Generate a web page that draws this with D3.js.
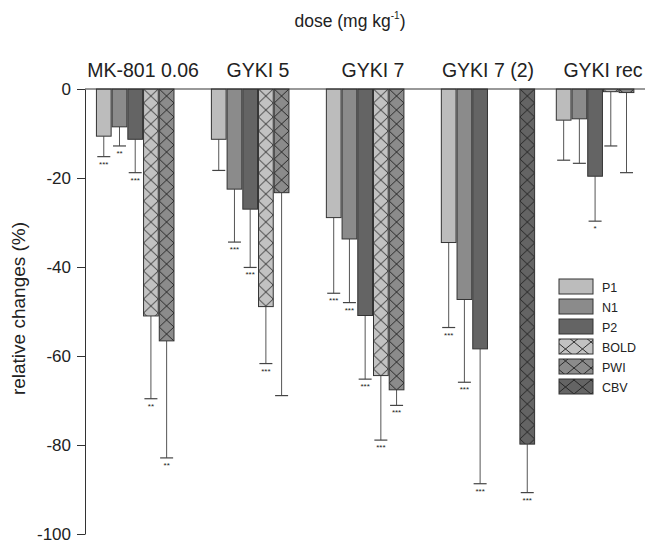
<!DOCTYPE html>
<html>
<head>
<meta charset="utf-8">
<script src="https://cdn.jsdelivr.net/npm/d3@7"></script>
<style>
body{margin:0;background:#fff;}
text{font-family:"Liberation Sans",Arial,sans-serif;fill:#222;}
</style>
</head>
<body>
<script>
// doses (groups) and measures (series)
const groups = ["MK-801 0.06", "GYKI 5", "GYKI 7", "GYKI 7 (2)", "GYKI rec"];
const series = ["P1", "N1", "P2", "BOLD", "PWI", "CBV"];

// mean relative change (%) per series, one value per group (null = not measured)
const meanP1   = [-10.6, -11.3, -28.9, -34.5, -7.0];
const meanN1   = [-8.5, -22.5, -33.7, -47.3, -6.7];
const meanP2   = [-11.3, -27.0, -50.9, -58.4, -19.6];
const meanBOLD = [-51.0, -48.9, -64.4, null, -0.6];
const meanPWI  = [-56.6, -23.3, -67.6, null, -0.8];
const meanCBV  = [null, null, null, -79.8, null];

// error bar length (drawn downward only)
const errP1   = [4.6, 7.0, 17.0, 19.1, 9.0];
const errN1   = [4.3, 11.9, 14.3, 18.6, 10.0];
const errP2   = [7.5, 13.1, 14.3, 30.3, 10.1];
const errBOLD = [18.6, 12.8, 14.5, null, 12.2];
const errPWI  = [26.3, 45.6, 3.5, null, 18.0];
const errCBV  = [null, null, null, 10.9, null];

// significance marks
const sigP1   = ["***", "", "***", "***", ""];
const sigN1   = ["**", "***", "***", "***", ""];
const sigP2   = ["***", "***", "***", "***", "*"];
const sigBOLD = ["**", "***", "***", "", ""];
const sigPWI  = ["**", "", "***", "", ""];
const sigCBV  = ["", "", "", "***", ""];

const yTicks = [0, -20, -40, -60, -80, -100];

const means = [meanP1, meanN1, meanP2, meanBOLD, meanPWI, meanCBV];
const errs = [errP1, errN1, errP2, errBOLD, errPWI, errCBV];
const sigs = [sigP1, sigN1, sigP2, sigBOLD, sigPWI, sigCBV];
const fills = ["#bcbcbc", "#8b8b8b", "#646464", "#c2c2c2", "#8b8b8b", "#646464"];
const hatched = [false, false, false, true, true, true];

const W = 658, H = 541;
const svg = d3.select("body").append("svg").attr("width", W).attr("height", H);
const defs = svg.append("defs");

const x0 = d3.scaleBand().domain(groups).range([85, 661]).paddingInner(0.18).paddingOuter(0.095);
const x1 = d3.scaleBand().domain(series).range([0, x0.bandwidth()]);
const y = d3.scaleLinear().domain([-100, 0]).range([534, 89]);

let patCount = 0;
let hatch = (fill, px, py, pw) => {
    let id = "hatch" + (patCount++);
    let p = defs.append("pattern").attr("id", id)
        .attr("patternUnits", "userSpaceOnUse")
        .attr("x", px).attr("y", py).attr("width", pw).attr("height", 14);
    p.append("rect").attr("width", pw).attr("height", 14).attr("fill", fill);
    p.append("path").attr("d", `M0,0L${pw},14M${pw},0L0,14`)
        .attr("stroke", "#1e1e1e").attr("stroke-width", 0.9).attr("fill", "none");
    return "url(#" + id + ")";
};

// data rows
let rows = [];
groups.forEach((g, gi) => {
    series.forEach((s, si) => {
        let v = means[si][gi];
        if (v === null) return;
        rows.push({g: g, s: s, si: si, v: v, e: errs[si][gi], sig: sigs[si][gi]});
    });
});

// axis
let yAxis = d3.axisLeft(y).tickValues(yTicks).tickSize(8).tickSizeOuter(0).tickFormat(d => String(d));
let ax = svg.append("g").attr("transform", "translate(85,0)").call(yAxis);
ax.select(".domain").attr("stroke", "#333");
ax.selectAll(".tick line").attr("stroke", "#333");
ax.selectAll(".tick text").attr("font-size", 17).attr("x", -14).attr("dy", "0.3em").attr("fill", "#222")
    .attr("font-family", "'Liberation Sans',Arial,sans-serif");

svg.append("text").attr("transform", "translate(25," + (y(-50) - 3) + ") rotate(-90)")
    .attr("text-anchor", "middle").attr("font-size", 19).text("relative changes (%)");

// error bars (behind bars)
let eb = svg.append("g").selectAll("g").data(rows).enter().append("g")
    .attr("transform", d => "translate(" + (x0(d.g) + x1(d.s) + x1.bandwidth() / 2) + ",0)");
eb.append("line").attr("y1", d => y(d.v)).attr("y2", d => y(d.v - d.e))
    .attr("stroke", "#555").attr("stroke-width", 1);
eb.append("line").attr("x1", -6.5).attr("x2", 6.5)
    .attr("y1", d => y(d.v - d.e)).attr("y2", d => y(d.v - d.e))
    .attr("stroke", "#444").attr("stroke-width", 1.2);
eb.append("text").attr("y", d => y(d.v - d.e) + 10).attr("text-anchor", "middle")
    .attr("font-size", 8).attr("fill", "#333").text(d => d.sig);

// bars
svg.append("g").selectAll("rect").data(rows).enter().append("rect")
    .attr("x", d => x0(d.g) + x1(d.s) + 0.5)
    .attr("y", y(0))
    .attr("width", x1.bandwidth() - 1)
    .attr("height", d => y(d.v) - y(0))
    .attr("fill", d => hatched[d.si] ? hatch(fills[d.si], x0(d.g) + x1(d.s) + 0.5, y(0), x1.bandwidth() - 1) : fills[d.si])
    .attr("stroke", "#333").attr("stroke-width", 1);

// zero line
svg.append("line").attr("x1", 85).attr("x2", 645).attr("y1", y(0)).attr("y2", y(0))
    .attr("stroke", "#333").attr("stroke-width", 1);

// group labels
svg.append("g").selectAll("text").data(groups).enter().append("text")
    .attr("x", d => x0(d) + x0.bandwidth() / 2).attr("y", 77)
    .attr("text-anchor", "middle").attr("font-size", 19.5).text(d => d);

// title
let title = svg.append("text").attr("x", 350).attr("y", 27).attr("text-anchor", "middle").attr("font-size", 17.5);
title.append("tspan").text("dose (mg kg");
title.append("tspan").attr("font-size", 10).attr("dy", -8).text("-1");
title.append("tspan").attr("dy", 8).text(")");

// legend
let lg = svg.append("g").selectAll("g").data(series).enter().append("g")
    .attr("transform", (d, i) => "translate(559," + (279 + i * 20) + ")");
lg.append("rect").attr("width", 34).attr("height", 15)
    .attr("fill", (d, i) => hatched[i] ? hatch(fills[i], 559, 279 + i * 20, 17) : fills[i])
    .attr("stroke", "#333").attr("stroke-width", 1);
lg.append("text").attr("x", 43).attr("y", 12.5).attr("font-size", 12.5).text(d => d);
</script>
</body>
</html>
